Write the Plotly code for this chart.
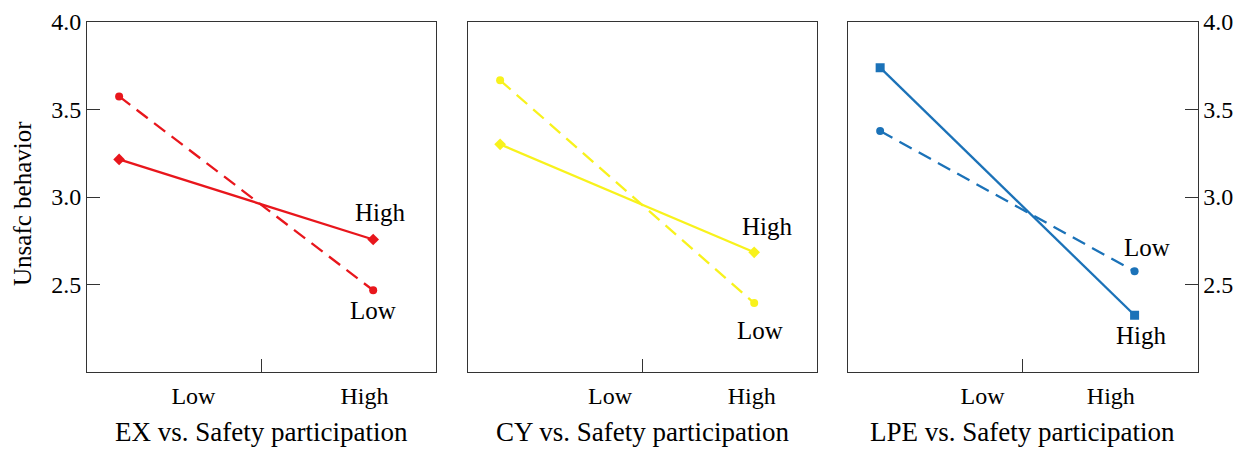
import plotly.graph_objects as go

# ---- data ----
panels = ["EX vs. Safety participation", "CY vs. Safety participation", "LPE vs. Safety participation"]
x_points = [0.092, 0.82]                  # Low / High safety participation (axis fraction)
high_ex = [3.215, 2.757]
low_ex = [3.575, 2.467]
high_cy = [3.301, 2.684]
low_cy = [3.667, 2.394]
high_lpe = [3.739, 2.324]
low_lpe = [3.377, 2.575]
colors = ["#e8161c", "#f8f21c", "#1b72b8"]
high_symbols = ["diamond", "diamond", "square"]
xtick_low = [0.305, 0.407, 0.385]
xtick_high = [0.795, 0.813, 0.752]
y_ticks = [2.5, 3.0, 3.5, 4.0]
y_ticklabels = ["2.5", "3.0", "3.5", "4.0"]
# label positions (x, y in data units) for the "High"/"Low" line labels
high_lab = [(0.84, 2.909), (0.857, 2.829), (0.84, 2.211)]
low_lab = [(0.82, 2.354), (0.837, 2.24), (0.855, 2.714)]

highs = [high_ex, high_cy, high_lpe]
lows = [low_ex, low_cy, low_lpe]

FONT = "Liberation Serif"
W, H = 1247, 449
OX, OY = 8, 8  # page body margin offset


def px(x):
    return (x - OX) / W


def py(y):
    return 1 - (y - OY) / H


xdom = [[px(87), px(436)], [px(468), px(817)], [px(848), px(1197.5)]]
ydom = [py(372), py(22)]

fig = go.Figure()
for i in range(3):
    xa = "x" if i == 0 else f"x{i+1}"
    ya = "y" if i == 0 else f"y{i+1}"
    fig.add_trace(go.Scatter(x=x_points, y=lows[i], mode="lines+markers", xaxis=xa, yaxis=ya,
                             line=dict(color=colors[i], width=2.3, dash="14px,8px"),
                             marker=dict(symbol="circle", size=8, color=colors[i]),
                             showlegend=False))
    fig.add_trace(go.Scatter(x=x_points, y=highs[i], mode="lines+markers", xaxis=xa, yaxis=ya,
                             line=dict(color=colors[i], width=2.3),
                             marker=dict(symbol=high_symbols[i], size=9, color=colors[i]),
                             showlegend=False))
    fig.add_annotation(x=high_lab[i][0], y=high_lab[i][1], xref=xa, yref=ya, text="High",
                       showarrow=False, font=dict(family=FONT, size=25, color="black"))
    fig.add_annotation(x=low_lab[i][0], y=low_lab[i][1], xref=xa, yref=ya, text="Low",
                       showarrow=False, font=dict(family=FONT, size=25, color="black"))
    fig.add_annotation(x=(xdom[i][0] + xdom[i][1]) / 2, y=py(432), xref="paper", yref="paper",
                       text=panels[i], showarrow=False, xanchor="center", yanchor="middle",
                       font=dict(family=FONT, size=27, color="black"))

axis_common = dict(showline=True, linecolor="#333", linewidth=1, mirror=True, showgrid=False,
                   zeroline=False, automargin=False)
layout = dict(width=W, height=H, margin=dict(l=0, r=0, t=0, b=0),
              plot_bgcolor="white", paper_bgcolor="white",
              font=dict(family=FONT, size=24, color="black"))
for i in range(3):
    xk = "xaxis" if i == 0 else f"xaxis{i+1}"
    yk = "yaxis" if i == 0 else f"yaxis{i+1}"
    layout[xk] = dict(axis_common, domain=xdom[i], range=[0, 1], anchor="y" if i == 0 else f"y{i+1}",
                      tickvals=[xtick_low[i], xtick_high[i]], ticktext=["Low", "High"],
                      ticks="", ticklabelstandoff=2,
                      minor=dict(tickvals=[0.5], ticks="inside", ticklen=13, tickcolor="#333"))
    yd = dict(axis_common, domain=ydom, range=[2, 4], anchor="x" if i == 0 else f"x{i+1}")
    if i == 0:
        yd.update(tickvals=y_ticks, ticktext=y_ticklabels, ticks="inside", ticklen=13,
                  tickcolor="#333", side="left")
    elif i == 2:
        yd.update(tickvals=y_ticks, ticktext=y_ticklabels, ticks="inside", ticklen=13,
                  tickcolor="#333", side="right")
    else:
        yd.update(showticklabels=False, ticks="")
    layout[yk] = yd
fig.update_layout(**layout)

fig.add_annotation(x=px(22), y=py(204), xref="paper", yref="paper", text="Unsafc behavior",
                   textangle=-90, showarrow=False, xanchor="center", yanchor="middle",
                   font=dict(family=FONT, size=25, color="black"))

fig.write_html("out.html")
